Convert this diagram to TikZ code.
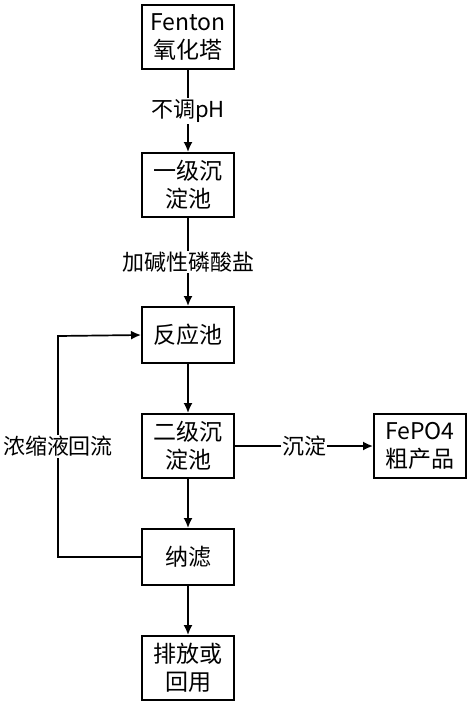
\documentclass[tikz,border=0pt]{standalone}
\usepackage{fontspec}
\setmainfont{Noto Sans CJK SC}
\usepackage{tikz}
\usetikzlibrary{arrows.meta, positioning}

\begin{document}
\begin{tikzpicture}[x=1pt, y=-1pt,
        box/.style={draw, line width=2pt, minimum width=92pt, minimum height=56pt,
            align=center, inner sep=1pt, font=\fontsize{23}{28}\selectfont},
        tall/.style={minimum height=64pt},
        flow/.style={-{Latex[length=10pt,width=9pt]}, line width=1.7pt},
        tag/.style={fill=white, inner sep=1pt, font=\fontsize{22}{26}\selectfont}]
        \useasboundingbox (0, 0) rectangle (474, 710);

        % Main line
        \node[box, tall] (fenton) at (188, 37) {Fenton\\氧化塔};
        \node[box, tall] (settle1) at (188, 185) {一级沉\\淀池};
        \node[box] (reactor) at (188, 335) {反应池};
        \node[box, tall] (settle2) at (188, 446) {二级沉\\淀池};
        \node[box] (nf) at (188, 557) {纳滤};
        \node[box, tall] (reuse) at (188, 668) {排放或\\回用};

        % Product
        \node[box, tall] (fepo) at (420, 446) {FePO4\\粗产品};

        % Arrows
        \draw[flow] (fenton) -- node[tag] {不调pH} (settle1);
        \draw[flow] (settle1) -- node[tag] {加碱性磷酸盐} (reactor);
        \draw[flow] (reactor) -- (settle2);
        \draw[flow] (settle2) -- (nf);
        \draw[flow] (nf) -- (reuse);
        \draw[flow] (settle2) -- node[tag] {沉淀} (fepo);

        % Concentrate return
        \coordinate (low) at (58, 557);
        \coordinate (high) at (58, 336);
        \draw[flow] (nf.west) -- (low) -- node[tag] {浓缩液回流} (high) -- (reactor.west);
\end{tikzpicture}
\end{document}
